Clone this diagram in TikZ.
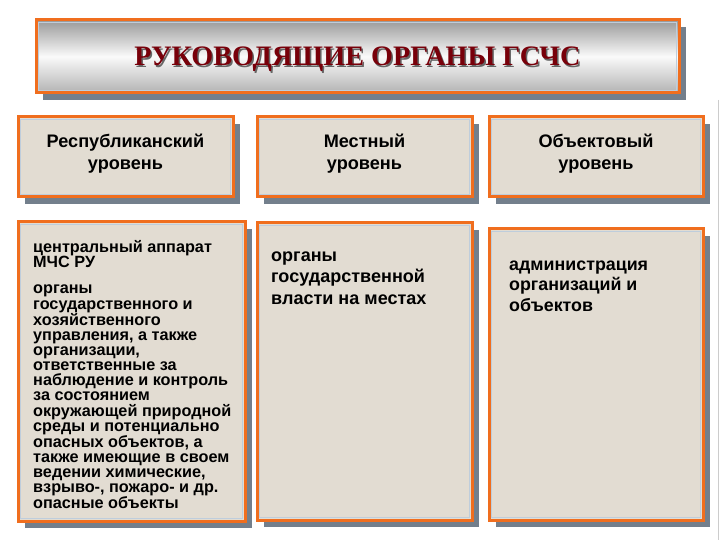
\documentclass[tikz,border=0pt]{standalone}
\usepackage{fontspec}
\setmainfont{Liberation Sans}
\newfontfamily\titlefont{Liberation Serif}
\usetikzlibrary{shadows}
\definecolor{boxorange}{RGB}{240,110,30}
\definecolor{beige}{RGB}{226,220,210}
\definecolor{innerblue}{RGB}{190,205,220}
\definecolor{shadowgray}{RGB}{115,127,140}
\definecolor{titlered}{RGB}{120,0,10}
\tikzset{
  panel/.style={draw=boxorange, line width=3bp, fill=beige, anchor=north west,
    inner sep=0pt, outer sep=0pt,
    drop shadow={shadow xshift=7bp, shadow yshift=-7bp, fill=shadowgray, opacity=1},
    path picture={\draw[innerblue, line width=1bp]
      ([shift={(2.5bp,-2.5bp)}]path picture bounding box.north west) rectangle
      ([shift={(-2.5bp,2.5bp)}]path picture bounding box.south east);}},
  lvltext/.style={align=center, font=\fontsize{18.2}{22}\selectfont\bfseries, text=black},
  bodytext/.style={align=left, anchor=north west, inner sep=0pt, text=black},
}
\begin{document}
\begin{tikzpicture}[x=1bp, y=-1bp]
\useasboundingbox (0,0) rectangle (720,540);
\fill[white] (0,0) rectangle (720,540);
% right slide edge
\draw[gray!40, line width=1bp] (718,100) -- (718,540);
% title
\node[panel, minimum width=643bp, minimum height=73bp,
  top color=gray!80, bottom color=gray!60, middle color=white!96!gray] (title) at (36,20) {};
\node[text=gray!80!black, font=\titlefont\fontsize{28.3}{30}\selectfont\bfseries] (titleshadow) at ([shift={(1.5bp,-4.5bp)}]title.center) {РУКОВОДЯЩИЕ ОРГАНЫ ГСЧС};
\node[text=titlered, font=\titlefont\fontsize{28.3}{30}\selectfont\bfseries] (titletext) at ([yshift=-3bp]title.center) {РУКОВОДЯЩИЕ ОРГАНЫ ГСЧС};
% level boxes
\node[panel, minimum width=215bp, minimum height=80bp] (l1) at (18,117) {};
\node[panel, minimum width=215bp, minimum height=80bp] (l2) at (257,117) {};
\node[panel, minimum width=214bp, minimum height=80bp] (l3) at (489,117) {};
\node[lvltext] (t1) at ([yshift=3bp]l1.center) {Республиканский\\уровень};
\node[lvltext] (t2) at ([yshift=3bp]l2.center) {Местный\\уровень};
\node[lvltext] (t3) at ([yshift=3bp]l3.center) {Объектовый\\уровень};
% content boxes
\node[panel, minimum width=227bp, minimum height=299bp] (c1) at (18,222) {};
\node[panel, minimum width=215bp, minimum height=297bp] (c2) at (257,223) {};
\node[panel, minimum width=214bp, minimum height=291bp] (c3) at (489,229) {};
\node[bodytext, font=\fontsize{16.3}{14.5}\selectfont\bfseries] (b1a) at (33,240) {центральный аппарат\\МЧС РУ};
\node[bodytext, font=\fontsize{16.3}{15.15}\selectfont\bfseries] (b1b) at (33,285) {органы\\государственного и\\хозяйственного\\управления, а также\\организации,\\ответственные за\\наблюдение и контроль\\за состоянием\\окружающей природной\\среды и потенциально\\опасных объектов, а\\также имеющие в своем\\ведении химические,\\взрыво-, пожаро- и др.\\опасные объекты};
\node[bodytext, font=\fontsize{18.1}{21.5}\selectfont\bfseries] (b2) at (271,251.5) {органы\\государственной\\власти на местах};
\node[bodytext, font=\fontsize{17.9}{20.5}\selectfont\bfseries] (b3) at (509,260.5) {администрация\\организаций и\\объектов};
\end{tikzpicture}
\end{document}
